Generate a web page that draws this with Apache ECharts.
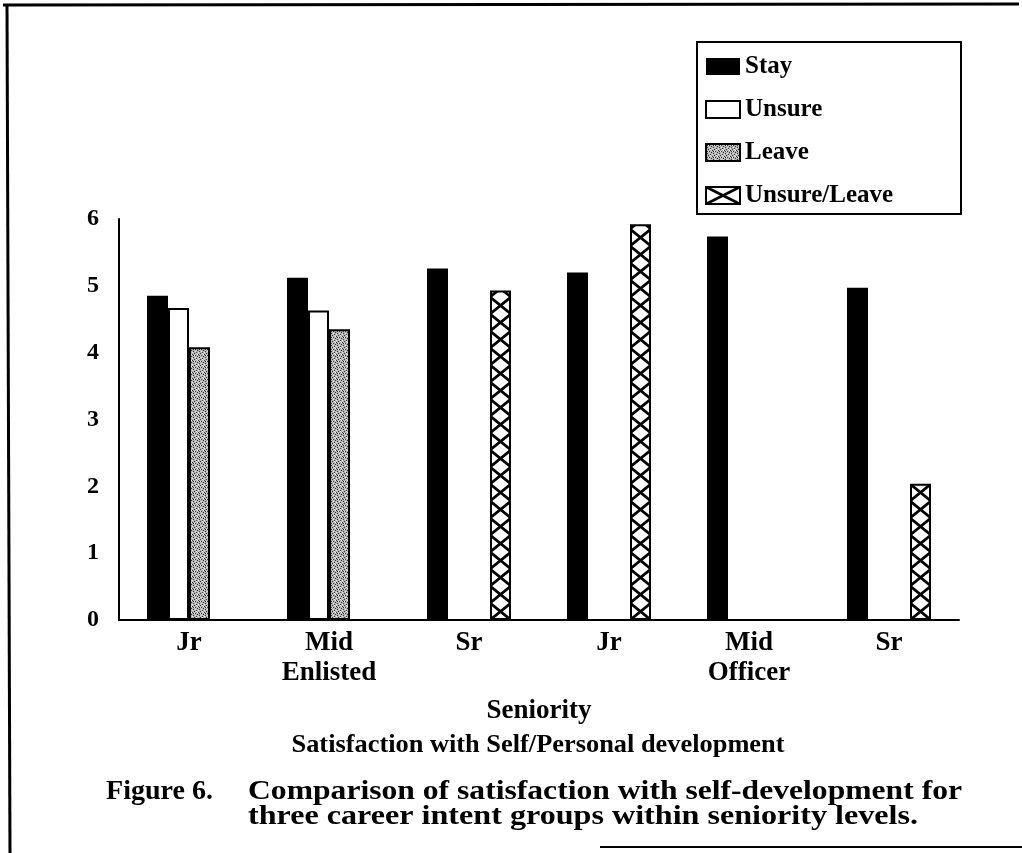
<!DOCTYPE html>
<html><head><meta charset="utf-8">
<script src="https://cdn.jsdelivr.net/npm/echarts@6/dist/echarts.min.js"></script>
<style>html,body{margin:0;padding:0;background:#fff}#c{width:1022px;height:853px}</style>
</head><body><div id="c"></div>
<script>
// ---- data ----
const categories = ['Jr', 'Mid\nEnlisted', 'Sr', 'Jr', 'Mid\nOfficer', 'Sr'];
const seriesNames = ['Stay', 'Unsure', 'Leave', 'Unsure/Leave'];
const stayValues = [4.85, 5.12, 5.26, 5.20, 5.74, 4.97];
const unsureValues = [4.67, 4.63, null, null, null, null];
const leaveValues = [4.08, 4.35, null, null, null, null];
const unsureLeaveValues = [null, null, 4.93, 5.92, null, 2.04];
const yMin = 0, yMax = 6, yStep = 1;
const axisTitle = 'Seniority';
const subtitle = 'Satisfaction with Self/Personal development';
const captionLabel = 'Figure 6.';
const captionLine1 = 'Comparison of satisfaction with self-development for';
const captionLine2 = 'three career intent groups within seniority levels.';

const FONT = "'Liberation Serif','Times New Roman',serif";

// ---- patterns ----
function makeStipple() {
  const c = document.createElement('canvas'); c.width = 6; c.height = 6;
  const g = c.getContext('2d');
  g.fillStyle = '#b4b4b4'; g.fillRect(0, 0, 6, 6);
  g.fillStyle = '#3a3a3a';
  [[0,0],[3,1],[1,3],[4,4],[5,2],[2,5],[1,1]].forEach(p => g.fillRect(p[0], p[1], 1, 1));
  g.fillStyle = '#e6e6e6';
  [[2,1],[5,0],[0,4],[3,3],[4,5]].forEach(p => g.fillRect(p[0], p[1], 1, 1));
  return c;
}
function makeHatch(w, h, lw) {
  const c = document.createElement('canvas'); c.width = w; c.height = h;
  const g = c.getContext('2d');
  g.fillStyle = '#fff'; g.fillRect(0, 0, w, h);
  g.strokeStyle = '#000'; g.lineWidth = lw;
  for (const dx of [-w, 0, w]) for (const dy of [-h, 0, h]) {
    g.beginPath(); g.moveTo(dx, dy); g.lineTo(dx + w, dy + h); g.stroke();
    g.beginPath(); g.moveTo(dx + w, dy); g.lineTo(dx, dy + h); g.stroke();
  }
  return c;
}
const stipple = makeStipple();
const hatchLegend = makeHatch(34, 17, 2.8);

function measure(text, font) {
  const g = document.createElement('canvas').getContext('2d');
  g.font = font; return g.measureText(text).width;
}
function fitText(text, x, y, size, targetW, align) {
  const font = 'bold ' + size + 'px ' + FONT;
  const sx = targetW / measure(text, font);
  return { type: 'text', x: x, y: y, scaleX: sx,
    style: { text: text, font: font, fill: '#000', textAlign: align || 'left', verticalAlign: 'middle' } };
}

const chart = echarts.init(document.getElementById('c'), null, { renderer: 'canvas' });
const txt = { fontFamily: FONT, fontWeight: 'bold', color: '#000' };

const option = {
  animation: false,
  backgroundColor: '#fff',
  grid: { left: 119, right: 63, top: 219, bottom: 233, containLabel: false },
  legend: {
    orient: 'vertical', left: 697, top: 42, padding: [12, 10, 6, 8],
    itemWidth: 34, itemHeight: 17, itemGap: 18, icon: 'rect',
    data: seriesNames,
    textStyle: Object.assign({ fontSize: 25, lineHeight: 25 }, txt),
    selectedMode: false
  },
  xAxis: {
    type: 'category', data: categories,
    axisLine: { show: true, lineStyle: { color: '#000', width: 2 } },
    axisTick: { show: false },
    axisLabel: Object.assign({ fontSize: 27, lineHeight: 30, margin: 8, interval: 0 }, txt),
    name: axisTitle, nameLocation: 'middle', nameGap: 78,
    nameTextStyle: Object.assign({ fontSize: 27 }, txt)
  },
  yAxis: {
    type: 'value', min: yMin, max: yMax, interval: yStep,
    axisLine: { show: true, lineStyle: { color: '#000', width: 2 } },
    axisTick: { show: false },
    splitLine: { show: false },
    axisLabel: Object.assign({ fontSize: 24, margin: 20 }, txt)
  },
  series: [
    { name: seriesNames[0], type: 'bar', data: stayValues, barGap: '0%', barCategoryGap: '40%',
      itemStyle: { color: '#000', borderColor: '#000', borderWidth: 0 } },
    { name: seriesNames[1], type: 'bar', data: unsureValues, barGap: '0%', barCategoryGap: '40%',
      itemStyle: { color: '#fff', borderColor: '#000', borderWidth: 2 } },
    { name: seriesNames[2], type: 'bar', data: leaveValues, barGap: '0%', barCategoryGap: '40%',
      itemStyle: { color: { image: stipple, repeat: 'repeat' }, borderColor: '#000', borderWidth: 2 } },
    { name: seriesNames[3], type: 'bar', data: unsureLeaveValues, barGap: '0%', barCategoryGap: '40%',
      itemStyle: { color: { image: hatchLegend, repeat: 'repeat' }, borderColor: '#000', borderWidth: 2 } }
  ],
  graphic: [
    { type: 'rect', shape: { x: 697, y: 42, width: 264, height: 172 },
      style: { fill: 'none', stroke: '#000', lineWidth: 2 } },
    { type: 'line', shape: { x1: 3, y1: 5, x2: 1019, y2: 4 }, style: { stroke: '#000', lineWidth: 3 } },
    { type: 'line', shape: { x1: 7, y1: 4, x2: 10, y2: 853 }, style: { stroke: '#000', lineWidth: 3 } },
    { type: 'line', shape: { x1: 600, y1: 847, x2: 1022, y2: 847 }, style: { stroke: '#000', lineWidth: 2 } },
    fitText(subtitle, 538, 745, 26, 493, 'center'),
    fitText(captionLabel, 106, 792, 28, 107),
    fitText(captionLine1, 248, 792, 28, 714),
    fitText(captionLine2, 248, 817, 28, 670)
  ]
};
chart.setOption(option);

// align the cross-hatch pattern to each bar's own left edge
const ulData = chart.getModel().getSeriesByIndex(3).getData();
const newData = unsureLeaveValues.map((v, i) => {
  if (v == null) return null;
  const l = ulData.getItemLayout(i);
  const left = Math.min(l.x, l.x + l.width);
  const w = Math.max(1, Math.round(Math.abs(l.width)));
  const base = Math.max(l.y, l.y + l.height);
  return { value: v, itemStyle: { color: { image: makeHatch(w, 17, 2.8), repeat: 'repeat', x: left, y: base } } };
});
chart.setOption({ series: [{}, {}, {}, { data: newData }] });
</script>
</body></html>
